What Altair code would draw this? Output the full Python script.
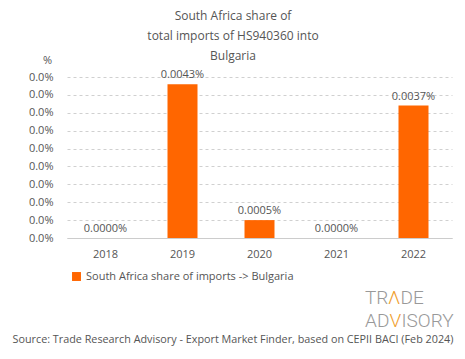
import altair as alt
import pandas as pd

years = ["2018", "2019", "2020", "2021", "2022"]
shares = [0.0, 0.000043, 0.000005, 0.0, 0.000037]
series = "South Africa share of imports -> Bulgaria"
y_ticks = [0.0, 0.000005, 0.00001, 0.000015, 0.00002, 0.000025, 0.00003, 0.000035, 0.00004, 0.000045]
title_lines = ["South Africa share of", "total imports of HS940360 into", "Bulgaria"]
source = "Source: Trade Research Advisory - Export Market Finder, based on CEPII BACI (Feb 2024)"

FONT = "Open Sans"
TXT = "#555555"
ORANGE = "#FF6600"
LOGO_GREY = "#999999"
LOGO_ORANGE = "#F0A030"

df = pd.DataFrame({"year": years, "share": shares, "series": [series] * len(years)})

base = alt.Chart(df)

x_enc = alt.X("year:N", sort=years, title=None,
              axis=alt.Axis(labelAngle=0, ticks=False, domain=True, domainColor="#cccccc",
                            labelPadding=10, labelFont=FONT, labelFontSize=11, labelColor=TXT))
y_enc = alt.Y("share:Q", scale=alt.Scale(domain=[0, 0.000045], nice=False),
              axis=alt.Axis(values=y_ticks, format=".1%", title="%", titleAngle=0,
                            titleX=-20, titleY=-12, titleFont=FONT, titleFontSize=11,
                            titleFontWeight="normal", titleColor=TXT, labelOverlap=False,
                            labelFont=FONT, labelFontSize=11, labelColor=TXT, labelPadding=14,
                            ticks=False, domain=False, gridDash=[3, 3], gridColor="#d0d0d0"))

bars = base.mark_bar(size=30).encode(
    x=x_enc,
    y=y_enc,
    color=alt.Color("series:N", scale=alt.Scale(range=[ORANGE]),
                    legend=alt.Legend(title=None, orient="none", legendX=4, legendY=194,
                                      symbolType="square", symbolSize=80, labelLimit=0,
                                      labelFont=FONT, labelFontSize=11, labelColor=TXT)),
)

labels = base.mark_text(dy=-9, font=FONT, fontSize=11, color=TXT).encode(
    x=x_enc,
    y=y_enc,
    text=alt.Text("share:Q", format=".4%"),
)


def text_layer(txt, x, y, align="center", **kw):
    return alt.Chart(pd.DataFrame({"t": [txt]})).mark_text(
        align=align, baseline="middle", **kw
    ).encode(x=alt.value(x), y=alt.value(y), text="t:N")


title_layers = [
    text_layer(line, 166, yy, font=FONT, fontSize=12, color=TXT)
    for line, yy in zip(title_lines, [-61, -41, -21])
]

src = text_layer(source, 166, 263, font=FONT, fontSize=10.8, color=TXT)

logo_kw = dict(align="left", font="Roboto", fontSize=19, fontWeight=300)
logo_parts = [
    ("TR", 298, 221, LOGO_GREY),
    ("\u039b", 321, 221, LOGO_ORANGE),
    ("DE", 333.5, 221, LOGO_GREY),
    ("AD", 298, 244, LOGO_GREY),
    ("V", 322.5, 244, LOGO_ORANGE),
    ("ISORY", 334.5, 244, LOGO_GREY),
]
logo_layers = [text_layer(t, x, y, color=c, **logo_kw) for t, x, y, c in logo_parts]

chart = alt.layer(bars, labels, *title_layers, src, *logo_layers).properties(
    width=385, height=161,
    padding={"left": 59, "top": 69, "right": 5, "bottom": 113},
    autosize=alt.AutoSizeParams(type="none"),
).configure_view(stroke=None)

chart.save("out.html", embed_options={"renderer": "svg", "actions": False})
